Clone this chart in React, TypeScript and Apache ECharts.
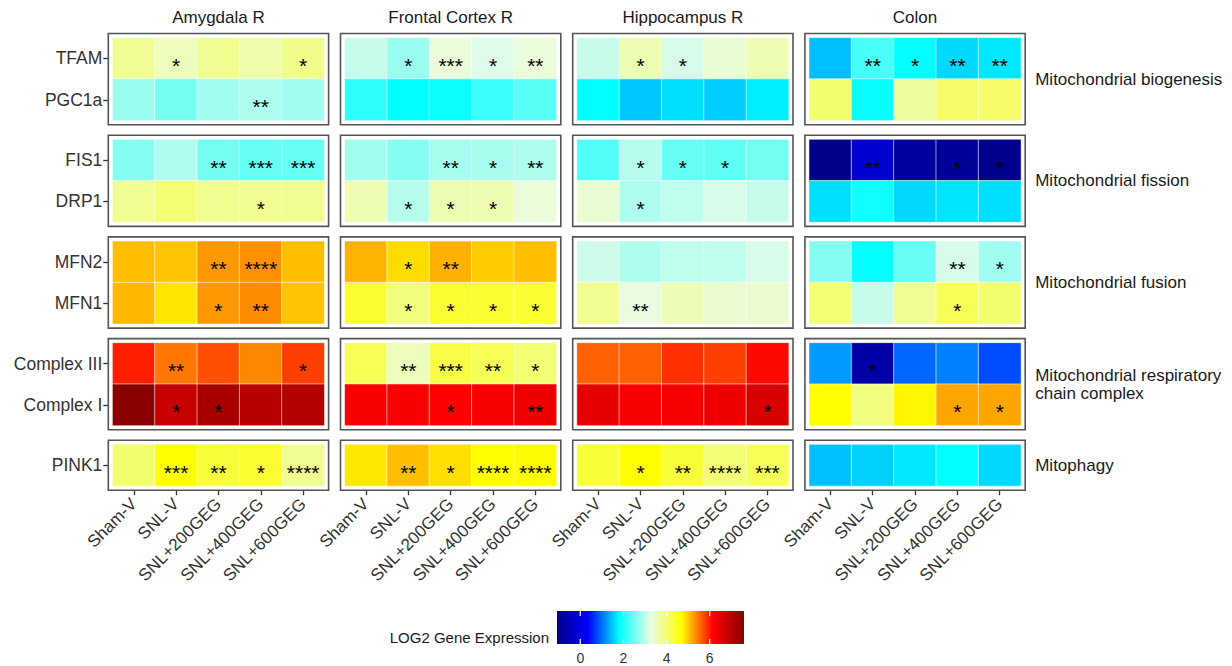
import React, { useEffect, useRef } from "react";
import * as echarts from "echarts";

// ---------- data ----------
const groups = ["Sham-V", "SNL-V", "SNL+200GEG", "SNL+400GEG", "SNL+600GEG"];
const tissues = ["Amygdala R", "Frontal Cortex R", "Hippocampus R", "Colon"];
const facetNames = [
  "Mitochondrial biogenesis",
  "Mitochondrial fission",
  "Mitochondrial fusion",
  "Mitochondrial respiratory\nchain complex",
  "Mitophagy",
];
const genes = ["TFAM", "PGC1a", "FIS1", "DRP1", "MFN2", "MFN1", "Complex III", "Complex I", "PINK1"];
const geneFacet = [0, 0, 1, 1, 2, 2, 3, 3, 4];
const legendTicks = [0, 2, 4, 6];

// rows follow `genes`, columns follow `groups`
const amygdalaValues = [
  [3.8, 3.53, 3.8, 3.65, 3.85],
  [2.76, 2.54, 2.81, 2.9, 2.81],
  [2.63, 2.9, 2.54, 2.45, 2.45],
  [3.8, 3.98, 3.8, 3.8, 3.8],
  [5.06, 5.04, 5.29, 5.33, 5.06],
  [5.1, 4.85, 5.29, 5.35, 5.04],
  [5.97, 5.47, 5.7, 5.38, 5.79],
  [7.59, 6.83, 7.23, 7.03, 7.08],
  [4.02, 4.7, 4.34, 4.4, 3.8],
];
const amygdalaStars = [
  ["", "*", "", "", "*"],
  ["", "", "", "**", ""],
  ["", "", "**", "***", "***"],
  ["", "", "", "*", ""],
  ["", "", "**", "****", ""],
  ["", "", "*", "**", ""],
  ["", "**", "", "", "*"],
  ["", "*", "*", "", ""],
  ["", "***", "**", "*", "****"],
];
const frontalValues = [
  [3.04, 2.76, 3.35, 3.2, 3.35],
  [2.08, 1.81, 1.86, 2.17, 2.36],
  [2.81, 2.63, 2.85, 2.85, 2.9],
  [3.6, 2.95, 3.6, 3.6, 3.35],
  [5.13, 4.9, 5.15, 4.99, 5.06],
  [4.4, 3.9, 4.38, 4.38, 4.38],
  [4.15, 3.53, 4.25, 4.15, 3.98],
  [6.18, 6.2, 6.15, 6.2, 6.35],
  [4.83, 5.06, 4.88, 4.7, 4.72],
];
const frontalStars = [
  ["", "*", "***", "*", "**"],
  ["", "", "", "", ""],
  ["", "", "**", "*", "**"],
  ["", "*", "*", "*", ""],
  ["", "*", "**", "", ""],
  ["", "*", "*", "*", "*"],
  ["", "**", "***", "**", "*"],
  ["", "", "*", "", "**"],
  ["", "**", "*", "****", "****"],
];
const hippocampusValues = [
  [3.04, 3.6, 3.15, 3.4, 3.6],
  [1.81, 1.5, 1.63, 1.52, 1.72],
  [2.31, 2.95, 2.45, 2.4, 2.54],
  [3.4, 2.9, 3.0, 3.15, 3.05],
  [3.1, 2.9, 3.0, 3.0, 3.15],
  [3.8, 3.3, 3.55, 3.42, 3.42],
  [5.6, 5.6, 5.88, 5.79, 6.1],
  [6.44, 6.2, 6.25, 6.34, 6.63],
  [4.34, 4.7, 4.34, 3.98, 4.15],
];
const hippocampusStars = [
  ["", "*", "*", "", ""],
  ["", "", "", "", ""],
  ["", "*", "*", "*", ""],
  ["", "*", "", "", ""],
  ["", "", "", "", ""],
  ["", "**", "", "", ""],
  ["", "", "", "", ""],
  ["", "", "", "", "*"],
  ["", "*", "**", "****", "***"],
];
const colonValues = [
  [1.45, 2.26, 1.81, 1.59, 1.68],
  [4.02, 1.85, 3.7, 4.05, 4.05],
  [-1.08, -0.22, -0.87, -0.9, -1.05],
  [1.63, 1.9, 1.59, 1.65, 1.63],
  [2.63, 1.81, 2.45, 3.15, 2.81],
  [3.98, 3.05, 3.78, 4.15, 4.02],
  [1.25, -0.72, 0.95, 1.1, 0.8],
  [4.7, 3.9, 4.75, 5.21, 5.21],
  [1.45, 1.55, 1.68, 1.81, 1.59],
];
const colonStars = [
  ["", "**", "*", "**", "**"],
  ["", "", "", "", ""],
  ["", "**", "", "*", "*"],
  ["", "", "", "", ""],
  ["", "", "", "**", "*"],
  ["", "", "", "*", ""],
  ["", "*", "", "", ""],
  ["", "", "", "*", "*"],
  ["", "", "", "", ""],
];
const tissueValues = [amygdalaValues, frontalValues, hippocampusValues, colonValues];
const tissueStars = [amygdalaStars, frontalStars, hippocampusStars, colonStars];

// ---------- colour scale ----------
const palette = ["#00008B", "#0000FF", "#00FFFF", "#E8FCE8", "#FFFF00", "#FF0000", "#8B0000"];

// ---------- layout ----------
const FONT = "'Liberation Sans', Arial, Helvetica, sans-serif";
const colLeft0 = 108.3;
const colStep = 232.2;
const panelW = 220.3;
const pad = 4.3;
const rowH = 41.3;
const facetTop0 = 33.5;
const facetGap = 10.5;

export default function App() {
  const ref = useRef<HTMLDivElement>(null);

  useEffect(() => {
    document.body.style.margin = "0";
    if (!ref.current) return;
    const chart = echarts.init(ref.current, undefined, { renderer: "svg" });

    const facetGenes: string[][] = facetNames.map((_, f) => genes.filter((_, gi) => geneFacet[gi] === f));
    const facetTops: number[] = [];
    let y = facetTop0;
    facetGenes.forEach((fg) => {
      facetTops.push(y);
      y += fg.length * rowH + 2 * pad + facetGap;
    });

    const grids: any[] = [];
    const xAxes: any[] = [];
    const yAxes: any[] = [];
    const series: any[] = [];
    const graphics: any[] = [];
    const allVals: number[] = [];

    tissues.forEach((tissue, c) => {
      const left = colLeft0 + c * colStep;
      graphics.push({
        type: "text",
        x: left + panelW / 2,
        y: 17,
        style: { text: tissue, font: `17px ${FONT}`, fill: "#1A1A1A", textAlign: "center", textVerticalAlign: "middle" },
      });
      facetGenes.forEach((fg, f) => {
        const top = facetTops[f];
        const h = fg.length * rowH + 2 * pad;
        const gi = grids.length;
        grids.push({ left: left + pad, top: top + pad, width: panelW - 2 * pad, height: fg.length * rowH });
        const isBottom = f === facetGenes.length - 1;
        const isLeft = c === 0;
        xAxes.push({
          type: "category",
          gridIndex: gi,
          data: groups,
          offset: pad,
          axisLine: { show: false },
          axisTick: { show: isBottom, alignWithLabel: true, length: 5, lineStyle: { color: "#333", width: 1.3 } },
          axisLabel: {
            show: isBottom,
            rotate: 45,
            margin: 11,
            fontSize: 17,
            fontFamily: FONT,
            color: "#333",
            interval: 0,
          },
          splitLine: { show: false },
        });
        yAxes.push({
          type: "category",
          gridIndex: gi,
          data: fg,
          inverse: true,
          offset: pad,
          axisLine: { show: false },
          axisTick: { show: isLeft, alignWithLabel: true, length: 5, lineStyle: { color: "#333", width: 1.3 } },
          axisLabel: { show: isLeft, margin: 6, fontSize: 17.5, fontFamily: FONT, color: "#333" },
          splitLine: { show: false },
        });
        const data: any[] = [];
        fg.forEach((g, yi) => {
          const gIdx = genes.indexOf(g);
          groups.forEach((_, xi) => {
            const v = tissueValues[c][gIdx][xi];
            allVals.push(v);
            data.push({ value: [xi, yi, v], stars: tissueStars[c][gIdx][xi] });
          });
        });
        series.push({
          type: "heatmap",
          xAxisIndex: gi,
          yAxisIndex: gi,
          data,
          itemStyle: { borderColor: "rgba(255,255,255,0.55)", borderWidth: 1 },
          label: {
            show: true,
            formatter: (p: any) => p.data.stars,
            fontSize: 21,
            fontFamily: FONT,
            color: "#000",
            offset: [0, 7],
          },
          emphasis: { disabled: true },
        });
        graphics.push({
          type: "rect",
          shape: { x: left, y: top, width: panelW, height: h },
          style: { fill: "none", stroke: "#555", lineWidth: 1.6 },
          z: 10,
        });
        if (c === tissues.length - 1) {
          graphics.push({
            type: "text",
            x: left + panelW + 10,
            y: top + h / 2,
            style: {
              text: facetNames[f],
              font: `17px ${FONT}`,
              fill: "#1A1A1A",
              textAlign: "left",
              textVerticalAlign: "middle",
              lineHeight: 18,
            },
          });
        }
      });
    });

    const vmin = Math.min(...allVals);
    const vmax = Math.max(...allVals);

    // legend colour bar
    const lx = 557, ly = 611, lw = 187, lh = 33;
    graphics.push({
      type: "rect",
      shape: { x: lx, y: ly, width: lw, height: lh },
      style: {
        fill: {
          type: "linear",
          x: 0,
          y: 0,
          x2: 1,
          y2: 0,
          colorStops: palette.map((col, i) => ({ offset: i / (palette.length - 1), color: col })),
        },
      },
    });
    legendTicks.forEach((t) => {
      const tx = lx + ((t - vmin) / (vmax - vmin)) * lw;
      graphics.push({ type: "line", shape: { x1: tx, y1: ly, x2: tx, y2: ly + 5 }, style: { stroke: "#fff", lineWidth: 1.2 } });
      graphics.push({ type: "line", shape: { x1: tx, y1: ly + lh - 5, x2: tx, y2: ly + lh }, style: { stroke: "#fff", lineWidth: 1.2 } });
      graphics.push({
        type: "text",
        x: tx,
        y: 665,
        style: { text: String(t), font: `14px ${FONT}`, fill: "#333", textAlign: "center", textVerticalAlign: "bottom" },
      });
    });
    graphics.push({
      type: "text",
      x: 549,
      y: 637,
      style: { text: "LOG2 Gene Expression", font: `15px ${FONT}`, fill: "#1A1A1A", textAlign: "right", textVerticalAlign: "middle" },
    });

    chart.setOption({
      animation: false,
      backgroundColor: "#fff",
      grid: grids,
      xAxis: xAxes,
      yAxis: yAxes,
      visualMap: {
        type: "continuous",
        show: false,
        min: vmin,
        max: vmax,
        dimension: 2,
        seriesIndex: series.map((_, i) => i),
        inRange: { color: palette },
      },
      series,
      graphic: graphics,
    });

    return () => chart.dispose();
  }, []);

  return <div ref={ref} style={{ width: 1232, height: 666 }} />;
}
